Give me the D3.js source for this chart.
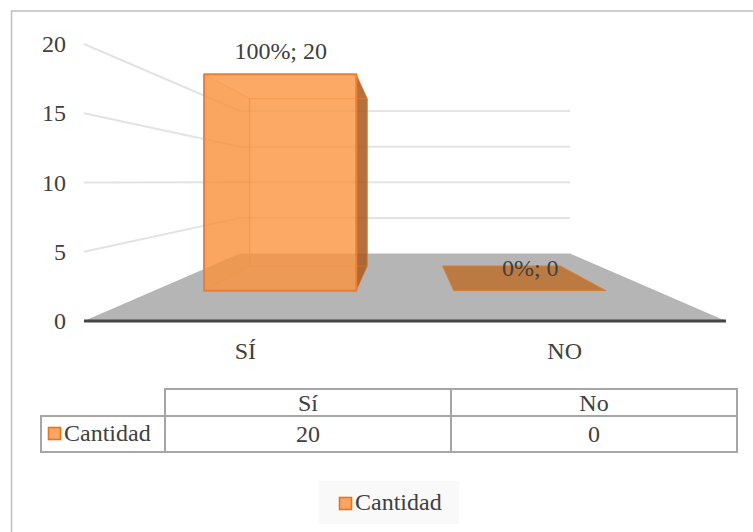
<!DOCTYPE html>
<html lang="es">
<head>
<meta charset="utf-8">
<title>Cantidad</title>
<script src="https://cdn.jsdelivr.net/npm/d3@7/dist/d3.min.js"></script>
<style>
  html, body { margin: 0; padding: 0; background: #fff; }
  svg { display: block; }
  text { font-family: "Liberation Serif", "Times New Roman", serif; fill: #404040; }
</style>
</head>
<body>
<script>
// Chart data
const categories = ["SÍ", "NO"];
const tableHeaders = ["Sí", "No"];
const seriesName = "Cantidad";
const values = [20, 0];
const yTicks = [0, 5, 10, 15, 20];

const width = 753, height = 532;
const FONT = 24;
const ORANGE = "#ed7d31";

const svg = d3.select("body").append("svg")
  .attr("width", width).attr("height", height);

// Perspective box: the front plane and the back wall each have their own scales,
// and depth t (0 = front, 1 = back) blends between them.
const yFront = d3.scaleLinear().domain([0, 20]).range([321, 44]);
const yBack = d3.scaleLinear().domain([0, 20]).range([253.5, 111]);
const xFront = d3.scaleLinear().domain([0, 1]).range([84, 726]);
const xBack = d3.scaleLinear().domain([0, 1]).range([240, 570]);
const band = d3.scaleBand().domain(categories).range([0, 1])
  .paddingInner(0.39).paddingOuter(0.2);
const depthNear = 0.45, depthFar = 0.815;

const project = (u, v, t) => [
  d3.interpolateNumber(xFront(u), xBack(u))(t),
  d3.interpolateNumber(yFront(v), yBack(v))(t)
];
const poly = pts => d3.line()(pts) + "Z";

// Outer frame of the chart area
svg.append("path")
  .attr("d", `M11.5,${height}V11H${width}`)
  .attr("fill", "none").attr("stroke", "#bfbfbf").attr("stroke-width", 1.5);

// Floor
svg.append("path")
  .attr("d", poly([project(0, 0, 0), project(0, 0, 1), project(1, 0, 1), project(1, 0, 0)]))
  .attr("fill", "#b5b5b5");

// Gridlines running along the side wall and then the back wall
svg.append("g").selectAll("path").data(yTicks.filter(d => d > 0)).join("path")
  .attr("d", d => d3.line()([project(0, d, 0), project(0, d, 1), project(1, d, 1)]))
  .attr("fill", "none").attr("stroke", "#e3e3e3").attr("stroke-width", 2);

// Baseline
svg.append("line")
  .attr("x1", xFront(0)).attr("x2", xFront(1))
  .attr("y1", yFront(0)).attr("y2", yFront(0))
  .attr("stroke", "#454545").attr("stroke-width", 3);

// Value axis labels
svg.append("g").selectAll("text").data(yTicks).join("text")
  .attr("x", 66).attr("y", d => yFront(d) + 8)
  .attr("text-anchor", "end").attr("font-size", FONT)
  .text(d => d);

// Category labels
svg.append("g").selectAll("text").data(categories).join("text")
  .attr("x", d => xFront(band(d) + band.bandwidth() / 2)).attr("y", 359)
  .attr("text-anchor", "middle").attr("font-size", FONT)
  .text(d => d);

// Bars as 3D boxes
const total = d3.sum(values);
categories.forEach((cat, i) => {
  const v = values[i];
  const u0 = band(cat), u1 = u0 + band.bandwidth();
  const g = svg.append("g");
  const corner = (u, val, t) => project(u, val, t);

  if (v === 0) {
    g.append("path")
      .attr("d", poly([corner(u0, 0, depthNear), corner(u0, 0, depthFar), corner(u1, 0, depthFar), corner(u1, 0, depthNear)]))
      .attr("fill", "#bb7a42").attr("stroke", "#d97f30").attr("stroke-width", 1);
  } else {
    const face = (pts, fill, opacity, sw, so) => g.append("path")
      .attr("d", poly(pts)).attr("fill", fill).attr("fill-opacity", opacity)
      .attr("stroke", ORANGE).attr("stroke-width", sw).attr("stroke-opacity", so)
      .attr("stroke-linejoin", "round");

    // right side, darker
    face([corner(u1, v, depthNear), corner(u1, v, depthFar), corner(u1, 0, depthFar), corner(u1, 0, depthNear)],
      "#a85f22", 0.88, 0.8, 0.6);
    // left side
    face([corner(u0, v, depthNear), corner(u0, v, depthFar), corner(u0, 0, depthFar), corner(u0, 0, depthNear)],
      "#c96f25", 0.1, 1, 0.45);
    // back face outline, visible through the front
    face([corner(u0, v, depthFar), corner(u1, v, depthFar), corner(u1, 0, depthFar), corner(u0, 0, depthFar)],
      "none", 0, 1.2, 0.5);
    // front face
    face([corner(u0, v, depthNear), corner(u1, v, depthNear), corner(u1, 0, depthNear), corner(u0, 0, depthNear)],
      "#fa933e", 0.8, 2, 1);
  }

  // Data label: share and value
  const top = corner((u0 + u1) / 2, v, depthNear);
  svg.append("text")
    .attr("x", top[0] + 0.5).attr("y", top[1] - 15)
    .attr("text-anchor", "middle").attr("font-size", FONT)
    .text(`${Math.round(v / total * 100)}%; ${v}`);
});

// Data table under the plot
const tableX = [41, 165, 451, 737];
const tableY = [389, 416, 452];
const rule = "#a6a6a6";
const table = svg.append("g").attr("fill", "none").attr("stroke", rule).attr("stroke-width", 2);
table.append("path").attr("d", `M${tableX[1]},${tableY[2]}V${tableY[0]}H${tableX[3]}V${tableY[2]}H${tableX[0]}V${tableY[1]}H${tableX[3]}`);
table.append("path").attr("d", `M${tableX[2]},${tableY[0]}V${tableY[2]}`);

tableHeaders.forEach((h, i) => {
  const cx = (tableX[i + 1] + tableX[i + 2]) / 2;
  svg.append("text").attr("x", cx).attr("y", 411).attr("text-anchor", "middle").attr("font-size", FONT).text(h);
  svg.append("text").attr("x", cx).attr("y", 442).attr("text-anchor", "middle").attr("font-size", FONT).text(values[i]);
});

const swatch = (x, y) => svg.append("rect")
  .attr("x", x).attr("y", y).attr("width", 12).attr("height", 12)
  .attr("fill", "#f9a662").attr("stroke", "#e8741f").attr("stroke-width", 1.6);

swatch(48.5, 427.5);
svg.append("text").attr("x", 64).attr("y", 441).attr("font-size", FONT).text(seriesName);

// Legend
svg.append("rect").attr("x", 319).attr("y", 481).attr("width", 140).attr("height", 43).attr("fill", "#f9f9f9");
swatch(339.5, 497.5);
svg.append("text").attr("x", 355).attr("y", 510).attr("font-size", FONT).text(seriesName);
</script>
</body>
</html>
